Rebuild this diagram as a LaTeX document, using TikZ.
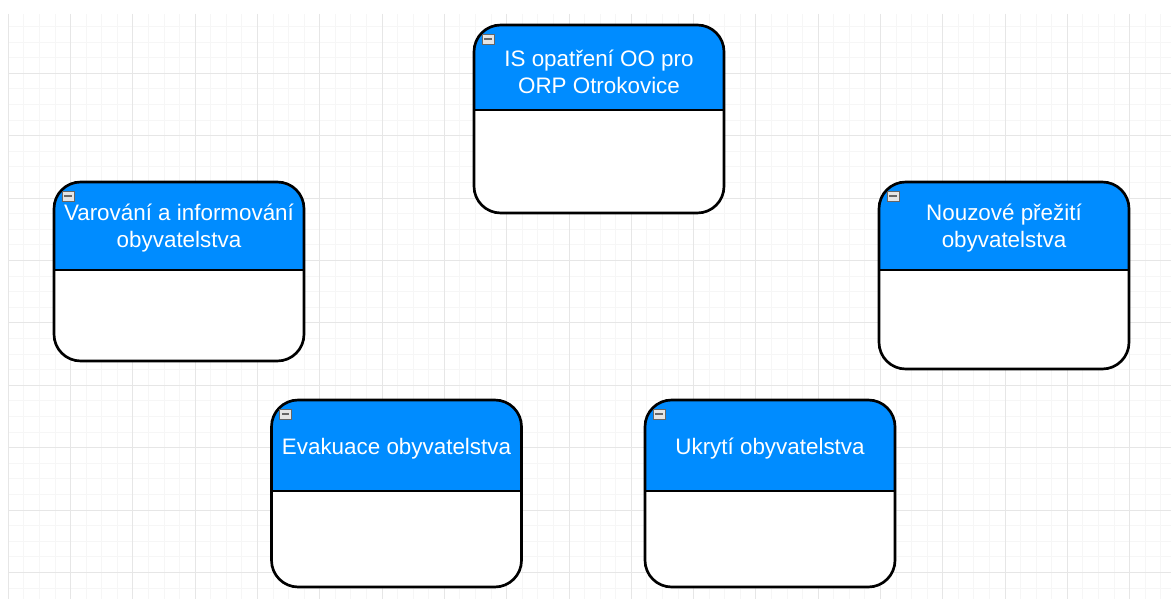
\documentclass[tikz,border=0pt]{standalone}
\usepackage{fontspec}
\setmainfont{Liberation Sans}
\usetikzlibrary{positioning}

\definecolor{laneblue}{RGB}{0,140,255}
\definecolor{gridmajor}{RGB}{230,230,230}
\definecolor{gridminor}{RGB}{246,246,246}

\tikzset{
  lane/.style 2 args={draw=black, line width=2pt, rounded corners=20pt, fill=white,
    minimum width=187.5pt, minimum height=#1*0.75pt, inner sep=0pt,
    path picture={
      \fill[laneblue, sharp corners] (path picture bounding box.north west) rectangle ([yshift=-#2*0.75pt]path picture bounding box.north east);
      \draw[line width=2pt, sharp corners] ([yshift=-#2*0.75pt]path picture bounding box.north west) -- ([yshift=-#2*0.75pt]path picture bounding box.north east);
    }},
  lanetitle/.style={text=white, align=center, font=\fontsize{16.8pt}{20.3pt}\selectfont, inner sep=0pt},
  collapseicon/.style={draw=gray!80!black, line width=0.5pt, fill=gray!20, minimum width=9pt, minimum height=8pt,
    inner sep=0pt, anchor=north west, sharp corners,
    path picture={\draw[line width=1.3pt] ([xshift=1.8pt]path picture bounding box.west) -- ([xshift=-1.8pt]path picture bounding box.east);}},
}

\begin{document}
\begin{tikzpicture}[x=0.75pt,y=-0.75pt]
  \useasboundingbox (0,0) rectangle (1171,599);

  % background grid
  \begin{scope}
    \clip (8,14) rectangle (1171,599);
    \foreach \i in {0,...,75} \draw[gridminor, line width=0.75pt] ({8.3+\i*15.575},14) -- ({8.3+\i*15.575},599);
    \foreach \j in {0,...,38} \draw[gridminor, line width=0.75pt] (8,{10.9+\j*15.6}) -- (1171,{10.9+\j*15.6});
    \foreach \i in {0,...,18} \draw[gridmajor, line width=0.75pt] ({8.3+\i*62.3},14) -- ({8.3+\i*62.3},599);
    \foreach \j in {0,...,9} \draw[gridmajor, line width=0.75pt] (8,{10.9+\j*62.4}) -- (1171,{10.9+\j*62.4});
  \end{scope}

  % Define lanes
  \node (ispanel) [lane={188}{85}] at (599,119) {};
  \node (warnpanel) [lane={179}{88}] at (179,271.5) {};
  \node (survivalpanel) [lane={187}{88}] at (1004,275.5) {};
  \node (evacpanel) [lane={187}{91}] at (396.5,493.5) {};
  \node (shelterpanel) [lane={187}{91}] at (770,493.5) {};

  % Titles
  \node (istitle) [lanetitle] at ([yshift=-35.8pt]ispanel.north) {IS opatření OO pro\\ORP Otrokovice};
  \node (warntitle) [lanetitle] at ([yshift=-35.5pt]warnpanel.north) {Varování a informování\\obyvatelstva};
  \node (survivaltitle) [lanetitle] at ([yshift=-35.5pt]survivalpanel.north) {Nouzové přežití\\obyvatelstva};
  \node (evactitle) [lanetitle] at ([yshift=-37.5pt]evacpanel.north) {Evakuace obyvatelstva};
  \node (sheltertitle) [lanetitle] at ([yshift=-37.5pt]shelterpanel.north) {Ukrytí obyvatelstva};

  % Collapse icons
  \node (isicon) [collapseicon] at ([xshift=6.75pt,yshift=-7.5pt]ispanel.north west) {};
  \node (warnicon) [collapseicon] at ([xshift=6.75pt,yshift=-7.5pt]warnpanel.north west) {};
  \node (survivalicon) [collapseicon] at ([xshift=6.75pt,yshift=-7.5pt]survivalpanel.north west) {};
  \node (evacicon) [collapseicon] at ([xshift=6.75pt,yshift=-7.5pt]evacpanel.north west) {};
  \node (sheltericon) [collapseicon] at ([xshift=6.75pt,yshift=-7.5pt]shelterpanel.north west) {};
\end{tikzpicture}
\end{document}
